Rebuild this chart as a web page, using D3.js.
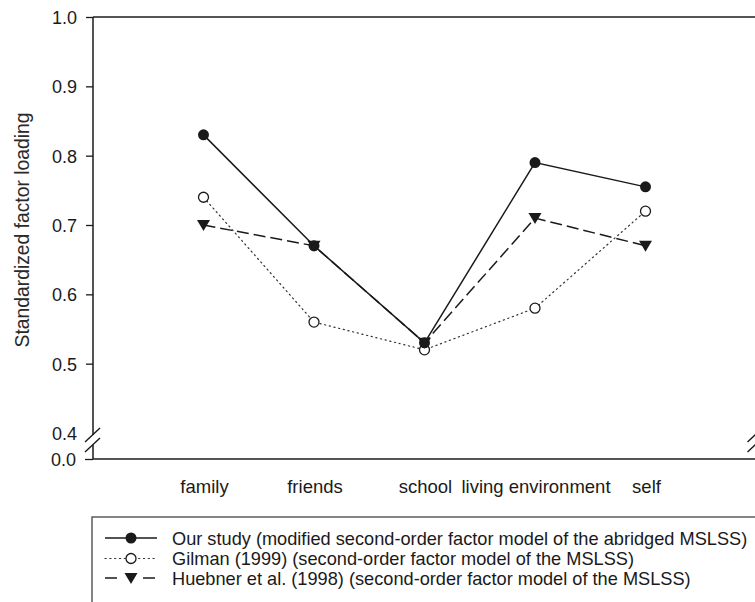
<!DOCTYPE html>
<html>
<head>
<meta charset="utf-8">
<script src="https://cdn.jsdelivr.net/npm/d3@7"></script>
<style>
  html, body { margin: 0; padding: 0; background: #fff; }
  svg { display: block; font-family: "Liberation Sans", Arial, Helvetica, sans-serif; }
</style>
</head>
<body>
<script>
// Standardized second-order factor loadings of the five MSLSS domains
const categories = ["family", "friends", "school", "living environment", "self"];
const ourStudy = [0.83, 0.67, 0.53, 0.79, 0.755];
const gilman = [0.74, 0.56, 0.52, 0.58, 0.72];
const huebner = [0.70, 0.67, 0.53, 0.71, 0.67];
const upperTicks = [0.4, 0.5, 0.6, 0.7, 0.8, 0.9, 1.0];
const lowerTicks = [0.0];
const legendLabels = [
  "Our study (modified second-order factor model of the abridged MSLSS)",
  "Gilman (1999) (second-order factor model of the MSLSS)",
  "Huebner et al. (1998) (second-order factor model of the MSLSS)"
];

const W = 755, H = 602;
const plotLeft = 93, plotRight = 756, plotTop = 17, breakY = 433, zeroY = 459;
const ink = "#1a1a1a";

const svg = d3.select("body").append("svg").attr("width", W).attr("height", H);

// x: categories sit at positions 1..5 on a 0..6 axis
const x = d3.scaleLinear().domain([0, 6]).range([plotLeft, plotRight]);
// y: broken axis, 0.4–1.0 above the break, 0.0 below it
const y = d3.scaleLinear().domain([0.4, 1.0]).range([breakY, plotTop]);
const yLow = d3.scaleLinear().domain([0, 0.01]).range([zeroY, zeroY - 1]);

// frame: top line and bottom axis line
svg.append("line").attr("x1", plotLeft).attr("x2", W).attr("y1", plotTop).attr("y2", plotTop)
  .attr("stroke", "#555").attr("stroke-width", 2);
svg.append("line").attr("x1", plotLeft).attr("x2", W).attr("y1", zeroY).attr("y2", zeroY)
  .attr("stroke", "#555").attr("stroke-width", 2);

// left axis, upper part
const yAxis = d3.axisLeft(y).tickValues(upperTicks).tickFormat(d3.format(".1f"))
  .tickSize(7).tickPadding(9);
const gUp = svg.append("g").attr("transform", `translate(${plotLeft},0)`).call(yAxis);
gUp.attr("font-size", null).attr("font-family", null);
gUp.select(".domain").remove();
gUp.selectAll(".tick").filter(d => d === 0.4).select("line").remove();
gUp.selectAll("line").attr("stroke", ink).attr("stroke-width", 1.3);
gUp.selectAll("text").style("font-size", "18px").attr("fill", ink).attr("dy", "0.36em");

// left axis, lower part
const yAxisLow = d3.axisLeft(yLow).tickValues(lowerTicks).tickFormat(d3.format(".1f"))
  .tickSize(8).tickPadding(9);
const gLow = svg.append("g").attr("transform", `translate(${plotLeft},0)`).call(yAxisLow);
gLow.attr("font-size", null).attr("font-family", null);
gLow.select(".domain").remove();
gLow.selectAll("line").attr("stroke", ink).attr("stroke-width", 1.3);
gLow.selectAll("text").style("font-size", "18px").attr("fill", ink).attr("dy", "0.36em");

// axis spine with the break gap
const brk1 = 435, brk2 = 445;
svg.append("line").attr("x1", plotLeft).attr("x2", plotLeft).attr("y1", plotTop).attr("y2", brk1)
  .attr("stroke", ink).attr("stroke-width", 1.5);
svg.append("line").attr("x1", plotLeft).attr("x2", plotLeft).attr("y1", brk2).attr("y2", zeroY)
  .attr("stroke", ink).attr("stroke-width", 1.5);

// break marks on both sides
function breakMarks(cx) {
  [brk1, brk2].forEach(cy => {
    svg.append("line")
      .attr("x1", cx - 7.5).attr("y1", cy + 7)
      .attr("x2", cx + 7.5).attr("y2", cy - 7)
      .attr("stroke", ink).attr("stroke-width", 1.4);
  });
}
breakMarks(plotLeft - 0.5);
breakMarks(plotRight - 1);

// category labels
svg.append("g").selectAll("text").data(categories).join("text")
  .attr("x", (d, i) => x(i + 1) + 1)
  .attr("y", 493)
  .attr("text-anchor", "middle")
  .style("font-size", "18.5px")
  .attr("fill", ink)
  .text(d => d);

// y title
svg.append("text")
  .attr("transform", `translate(29,230) rotate(-90)`)
  .attr("text-anchor", "middle")
  .style("font-size", "19.3px")
  .attr("fill", "#2a2a2a")
  .text("Standardized factor loading");

const line = d3.line().x((d, i) => x(i + 1)).y(d => y(d));

const series = [
  { values: gilman, dash: "1.2,3.6", width: 1.2, color: "#333", marker: "open" },
  { values: huebner, dash: "12,5", width: 1.5, color: ink, marker: "tri" },
  { values: ourStudy, dash: null, width: 1.5, color: ink, marker: "dot" }
];

const triPath = "M-6.5,-5 L6.5,-5 L0,6 Z";

function drawMarker(g, type) {
  if (type === "dot") {
    g.append("circle").attr("r", 5.5).attr("fill", ink);
  } else if (type === "open") {
    g.append("circle").attr("r", 5).attr("fill", "#fff").attr("stroke", ink).attr("stroke-width", 1.3);
  } else {
    g.append("path").attr("d", triPath).attr("fill", ink);
  }
}

series.forEach(s => {
  svg.append("path").datum(s.values)
    .attr("d", line)
    .attr("fill", "none")
    .attr("stroke", s.color)
    .attr("stroke-width", s.width)
    .attr("stroke-dasharray", s.dash)
    .attr("stroke-linecap", s.marker === "open" ? "round" : "butt");
});

// markers drawn after all lines
["open", "dot", "tri"].forEach(type => {
  const s = series.find(d => d.marker === type);
  s.values.forEach((v, i) => {
    const g = svg.append("g").attr("transform", `translate(${x(i + 1)},${y(v)})`);
    drawMarker(g, type);
  });
});

// legend
const lg = svg.append("g");
lg.append("rect").attr("x", 92).attr("y", 517).attr("width", 700).attr("height", 120)
  .attr("fill", "#fff").attr("stroke", "#444").attr("stroke-width", 1.3);

const legendSeries = [series[2], series[0], series[1]];
const rowY = [538, 558.5, 578];
legendSeries.forEach((s, i) => {
  const ly = rowY[i];
  lg.append("line").attr("x1", 105).attr("x2", 157).attr("y1", ly).attr("y2", ly)
    .attr("stroke", s.color).attr("stroke-width", s.width)
    .attr("stroke-dasharray", s.marker === "tri" ? "12,7" : s.dash)
    .attr("stroke-linecap", s.marker === "open" ? "round" : "butt");
  const g = lg.append("g").attr("transform", `translate(131,${ly})`);
  if (s.marker === "tri") {
    g.append("rect").attr("x", -9).attr("y", -3).attr("width", 18).attr("height", 6).attr("fill", "#fff");
  }
  drawMarker(g, s.marker);
  lg.append("text").attr("x", 172).attr("y", ly + 6.5)
    .style("font-size", "18.2px").attr("fill", ink)
    .text(legendLabels[i]);
});
</script>
</body>
</html>
